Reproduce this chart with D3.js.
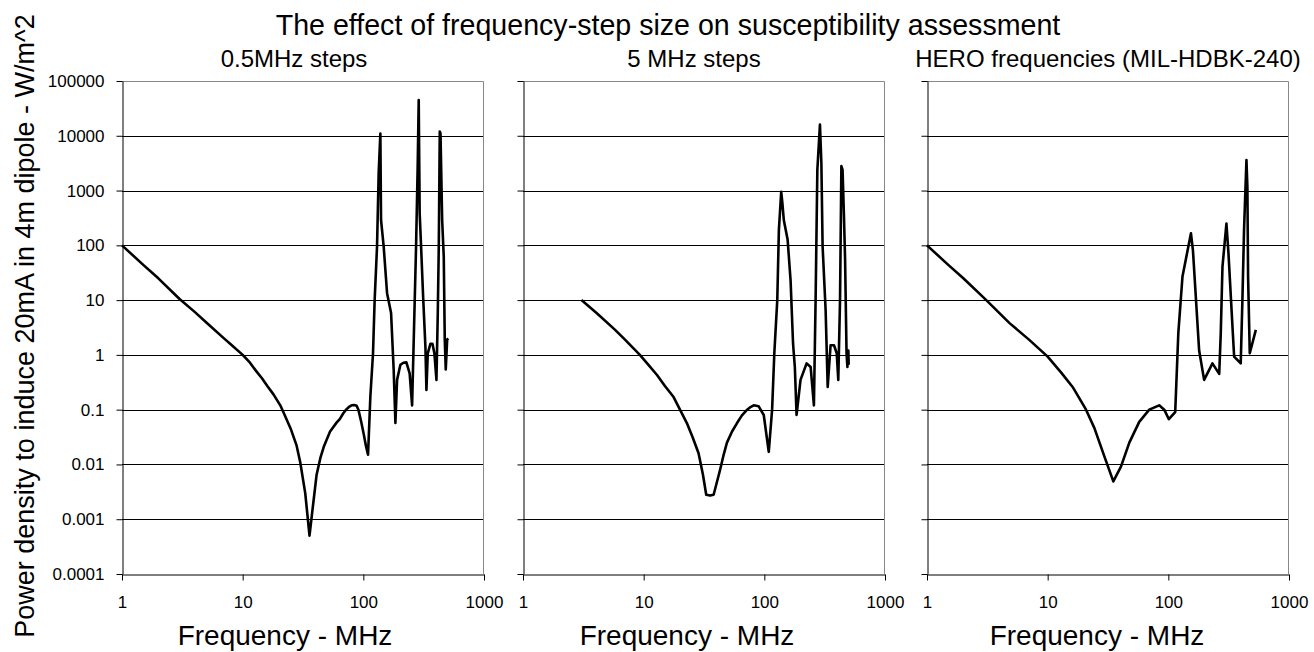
<!DOCTYPE html>
<html>
<head>
<meta charset="utf-8">
<script src="https://cdn.jsdelivr.net/npm/d3@7"></script>
<style>
  body { margin: 0; background: #fff; }
  svg text { font-family: "Liberation Sans", Arial, sans-serif; fill: #000; }
</style>
</head>
<body>
<svg id="chart" width="1314" height="652" viewBox="0 0 1314 652"></svg>
<script>
// chart text
const chartTitle = "The effect of frequency-step size on susceptibility assessment";
const panelTitles = ["0.5MHz steps", "5 MHz steps", "HERO frequencies (MIL-HDBK-240)"];
const xAxisTitle = "Frequency - MHz";
const yAxisTitle = "Power density to induce 20mA in 4m dipole - W/m^2";

// ticks
const xTickValues = [1, 10, 100, 1000];
const xTickLabels = ["1", "10", "100", "1000"];
const yTickValues = [0.0001, 0.001, 0.01, 0.1, 1, 10, 100, 1000, 10000, 100000];
const yTickLabels = ["0.0001", "0.001", "0.01", "0.1", "1", "10", "100", "1000", "10000", "100000"];

// 0.5 MHz steps
const freqFine = [1, 1.5, 2, 3, 4, 5, 7, 8, 10, 11.5, 13, 14.5, 16, 18, 20.5, 22, 25, 28, 30, 33, 35.8, 38.5, 41, 44,
  47, 53, 60, 64, 68, 72, 76, 80, 84, 88, 91, 96, 101, 105, 109.4, 114.3, 120.3, 124.1, 129.9, 134, 138.4, 140.2,
  147.4, 157.3, 169.8, 178.4, 184.4, 190.4, 202.8, 215, 227.4, 242, 253.6, 265, 273.6, 282.4, 287.7, 293, 301, 313,
  327, 333.3, 342, 360, 374, 388, 403.6, 414, 422, 430, 436, 450, 464, 473, 482, 495, 505];
const powerFine = [100, 44, 25, 10.5, 6.1, 3.9, 2.0, 1.55, 1.0, 0.72, 0.5, 0.37, 0.27, 0.19, 0.12, 0.085, 0.045,
  0.022, 0.011, 0.003, 0.0005, 0.002, 0.0065, 0.013, 0.021, 0.04, 0.058, 0.068, 0.085, 0.1, 0.112, 0.12, 0.122,
  0.118, 0.1, 0.06, 0.035, 0.022, 0.015, 0.17, 1.07, 10, 96, 2100, 11000, 290, 96, 13.4, 5.8, 0.54, 0.057, 0.35,
  0.66, 0.72, 0.73, 0.46, 0.12, 5.8, 96, 3160, 45000, 390, 96, 11.5, 1.4, 0.23, 1.07, 1.6, 1.6, 1.07, 0.35, 5.8, 96,
  12000, 11000, 290, 62, 1.9, 0.54, 1.9, 2.0];

// 5 MHz steps
const freqCoarse = [3.05, 4.07, 5.8, 7, 9.3, 11, 12.9, 15, 17.7, 20, 22.8, 25.5, 28.5, 31, 33, 35.5, 38, 43, 46, 49,
  54, 59.4, 65, 72, 76, 81.7, 89.8, 98.9, 108.8, 116, 121, 128, 132, 138, 141, 145, 156, 165, 173, 179, 185, 199.5,
  224, 242, 257.6, 266, 275, 289, 297, 304, 322, 335, 354, 378, 398, 410, 424, 435, 445, 457, 467, 480, 488, 497, 500];
const powerCoarse = [10, 5.8, 2.86, 1.9, 1.0, 0.65, 0.43, 0.27, 0.17, 0.1, 0.057, 0.031, 0.016, 0.0065, 0.0028,
  0.0027, 0.0028, 0.008, 0.015, 0.025, 0.04, 0.057, 0.078, 0.1, 0.11, 0.12, 0.115, 0.08, 0.017, 0.1, 1.07, 10, 190,
  950, 600, 290, 126, 23, 1.6, 0.6, 0.08, 0.35, 0.7, 0.6, 0.12, 10, 2380, 16000, 3160, 96, 6.6, 0.26, 1.5, 1.5, 1.07,
  0.35, 10, 2800, 2380, 335, 54, 1.07, 0.6, 1.2, 0.66];

// HERO frequencies
const freqHero = [1, 1.5, 2, 3.1, 4.83, 7, 10, 13, 16.1, 20.8, 24.4, 29.5, 35, 40.5, 47.5, 57.4, 69.5, 84, 92.5, 101,
  114, 121, 131, 154, 160, 180, 198, 232, 264, 272, 281, 303, 315, 340, 351, 398, 411, 424, 444, 452, 458, 473, 531];
const powerHero = [100, 44, 25, 10, 3.8, 1.9, 0.93, 0.47, 0.26, 0.1, 0.046, 0.014, 0.0049, 0.0091, 0.025, 0.06, 0.1,
  0.12, 0.1, 0.067, 0.09, 2.5, 27, 166, 80, 1.2, 0.35, 0.7, 0.45, 2.5, 41, 250, 72, 3.3, 0.93, 0.7, 10, 190, 3600,
  1170, 27, 1.07, 2.86];

const seriesList = [
  { freq: freqFine, power: powerFine },
  { freq: freqCoarse, power: powerCoarse },
  { freq: freqHero, power: powerHero }
];

// layout
const panelLefts = [122, 523, 927];
const panelWidth = 362;
const plotTop = 81, plotBottom = 574;
const titleCenters = [294, 694, 1108];
const xTitleCenters = [285, 687, 1097];

const svg = d3.select("#chart");

svg.append("text")
  .attr("x", 668).attr("y", 35)
  .attr("text-anchor", "middle")
  .attr("font-size", "28.6px")
  .text(chartTitle);

svg.append("text")
  .attr("transform", "translate(34,326) rotate(-90)")
  .attr("text-anchor", "middle")
  .attr("font-size", "27px")
  .text(yAxisTitle);

seriesList.forEach((s, idx) => {
  const x = d3.scaleLog().domain([1, 1000]).range([0, panelWidth]);
  const y = d3.scaleLog().domain([0.0001, 100000]).range([plotBottom - plotTop, 0]);
  const h = plotBottom - plotTop;

  const g = svg.append("g")
    .attr("transform", `translate(${panelLefts[idx]},${plotTop})`);

  // gridlines
  g.selectAll("line.grid")
    .data(yTickValues.slice(1, -1))
    .join("line")
    .attr("class", "grid")
    .attr("x1", 0).attr("x2", panelWidth)
    .attr("y1", d => Math.round(y(d)) + 0.5)
    .attr("y2", d => Math.round(y(d)) + 0.5)
    .attr("stroke", "#000")
    .attr("stroke-width", 1);

  // grey frame top + right
  g.append("path")
    .attr("d", `M0,0.5H${panelWidth - 0.5}V${h}`)
    .attr("fill", "none")
    .attr("stroke", "#888")
    .attr("stroke-width", 1);

  // y axis
  const yAxis = g.append("g")
    .attr("transform", "translate(0.5,0)")
    .call(d3.axisLeft(y)
      .tickValues(yTickValues)
      .tickSize(6)
      .tickSizeOuter(0)
      .tickPadding(12)
      .tickFormat((d, i) => idx === 0 ? yTickLabels[i] : ""));
  yAxis.selectAll("text").attr("font-size", "17px").attr("font-family", null);
  yAxis.selectAll("line, path").attr("stroke", "#000");

  // x axis
  const xAxis = g.append("g")
    .attr("transform", `translate(0,${h + 0.5})`)
    .call(d3.axisBottom(x)
      .tickValues(xTickValues)
      .tickSize(6)
      .tickSizeOuter(0)
      .tickPadding(15)
      .tickFormat((d, i) => xTickLabels[i]));
  xAxis.selectAll("text").attr("font-size", "17px").attr("font-family", null);
  xAxis.selectAll("line, path").attr("stroke", "#000");

  // curve
  const pts = s.freq.map((f, i) => [f, s.power[i]]);
  g.append("path")
    .datum(pts)
    .attr("fill", "none")
    .attr("stroke", "#000")
    .attr("stroke-width", 2.6)
    .attr("stroke-linejoin", "round")
    .attr("d", d3.line().x(d => x(d[0])).y(d => y(d[1])));

  // panel title
  svg.append("text")
    .attr("x", titleCenters[idx]).attr("y", 67)
    .attr("text-anchor", "middle")
    .attr("font-size", "24px")
    .text(panelTitles[idx]);

  // x axis title
  svg.append("text")
    .attr("x", xTitleCenters[idx]).attr("y", 645)
    .attr("text-anchor", "middle")
    .attr("font-size", "28px")
    .text(xAxisTitle);
});
</script>
</body>
</html>
